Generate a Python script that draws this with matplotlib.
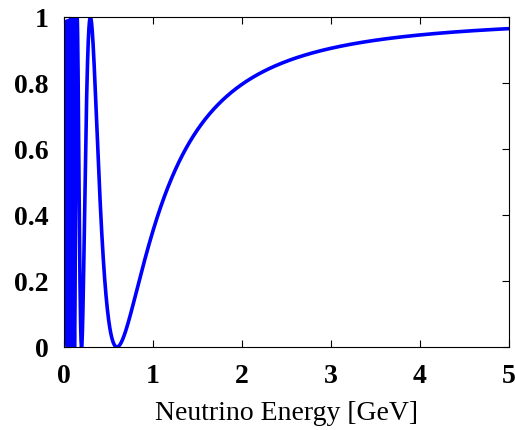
import numpy as np
import matplotlib
matplotlib.use("Agg")
import matplotlib.pyplot as plt

# oscillation parameters (minimum near 0.6 GeV, full depth)
sin2_2theta = 1.0
dm2 = 2.5e-3          # eV^2
baseline = 295.0      # km
e_min, e_max = 0.001, 5.0
n_pts = 5000

x_ticks = [0, 1, 2, 3, 4, 5]
y_ticks = [0, 0.2, 0.4, 0.6, 0.8, 1]
y_ticklabels = ["0", "0.2", "0.4", "0.6", "0.8", "1"]
xlabel = "Neutrino Energy [GeV]"

plt.rcParams['font.family'] = ['Liberation Serif', 'DejaVu Serif']

energy = np.linspace(e_min, e_max, n_pts)
prob = 1 - sin2_2theta * np.sin(1.27 * dm2 * baseline / energy) ** 2

fig = plt.figure(figsize=(5.15, 4.30), dpi=100)
ax = fig.add_axes([0.124, 0.193, 0.864, 0.767])

ax.plot(energy, prob, color=(0, 0, 1), lw=2.6)

ax.set_xlim(0, 5)
ax.set_ylim(0, 1)
ax.set_xticks(x_ticks)
ax.set_xticklabels([str(t) for t in x_ticks], fontsize=20, fontweight='bold')
ax.set_yticks(y_ticks)
ax.set_yticklabels(y_ticklabels, fontsize=20, fontweight='bold')
ax.tick_params(direction='in', length=5, width=0.8, top=True, right=True)
ax.tick_params(axis='x', pad=12)
ax.tick_params(axis='y', pad=11)
ax.set_xlabel(xlabel, fontsize=20, labelpad=9)

fig.savefig("out.png", dpi=100)
